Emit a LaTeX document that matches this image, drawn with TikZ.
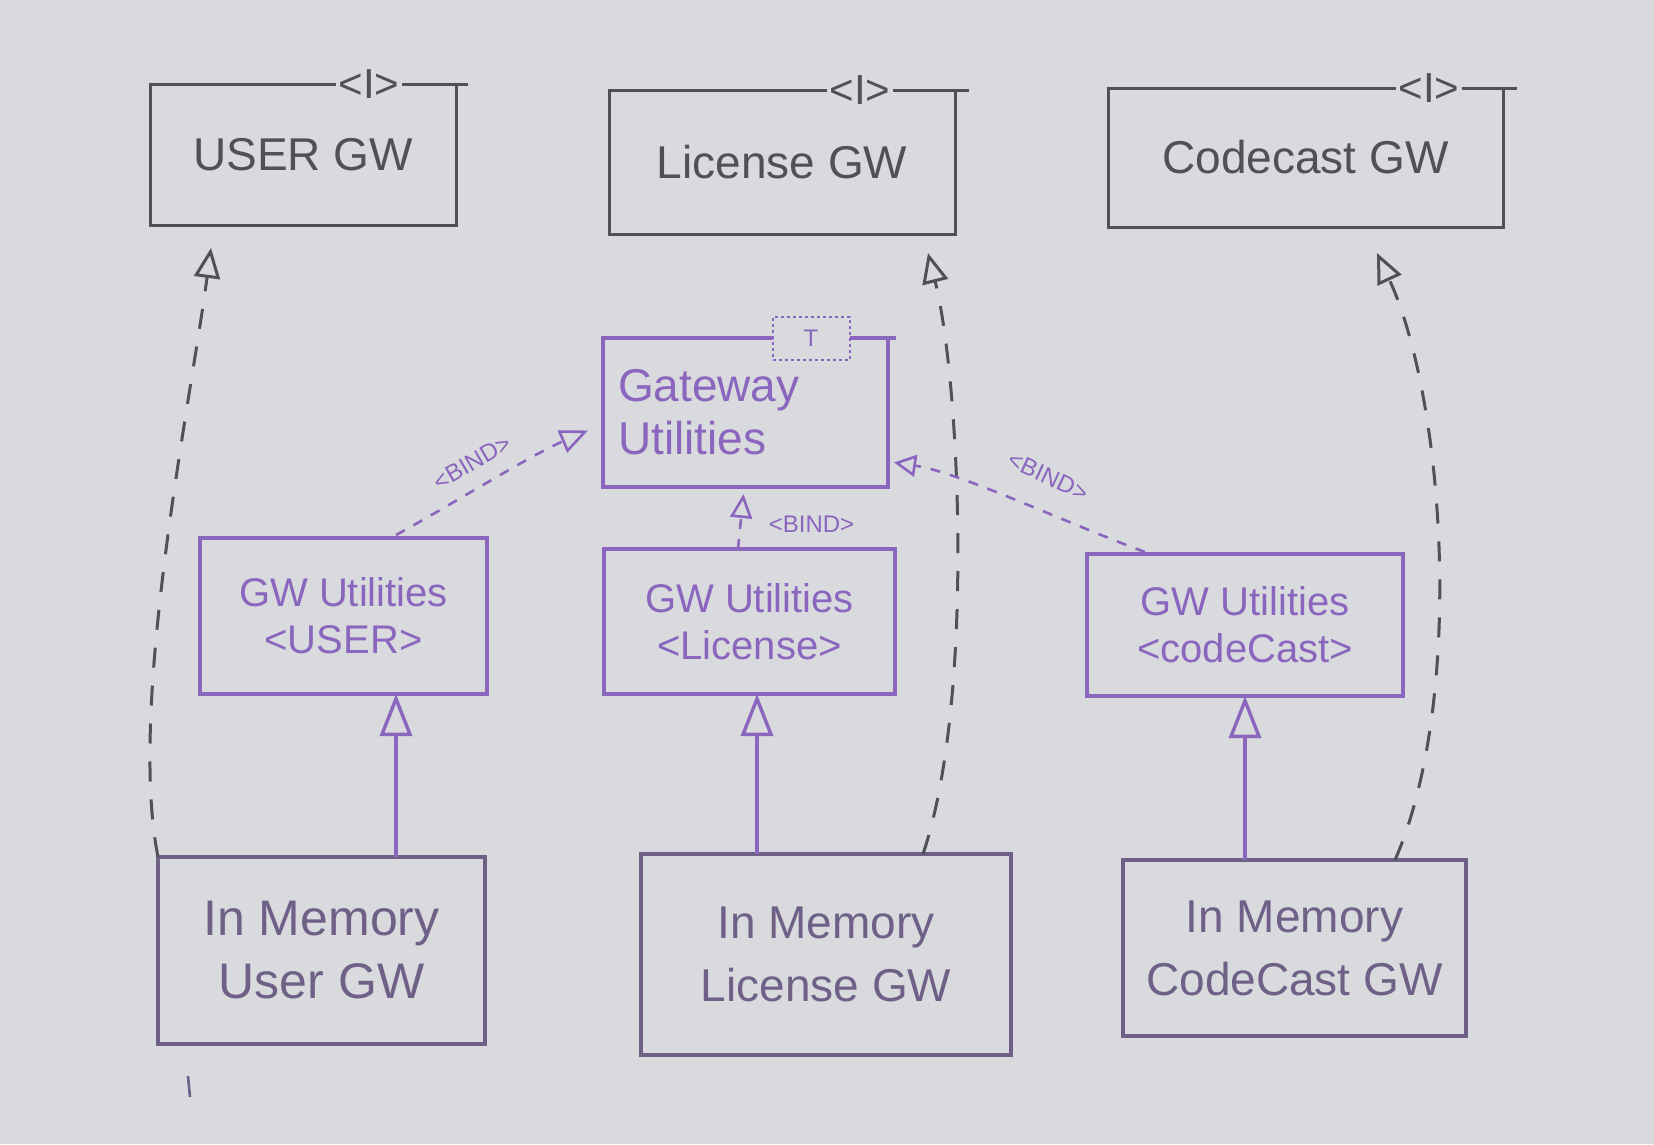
\documentclass[tikz,border=0pt]{standalone}
\usepackage{fontspec}
\setmainfont{Liberation Sans}
\usetikzlibrary{arrows.meta,calc}
\definecolor{board}{RGB}{217,218,221}
\definecolor{ink}{RGB}{80,80,88}
\definecolor{pur}{RGB}{138,102,190}
\definecolor{memink}{RGB}{110,96,135}
\begin{document}
\begin{tikzpicture}[x=1pt,y=-1pt,
  iface/.style={draw=ink, line width=3pt, rectangle, inner sep=0pt, outer sep=0pt, text=ink, font=\fontsize{46}{53}\selectfont},
  util/.style={draw=pur, line width=3.4pt, rectangle, inner sep=0pt, outer sep=0pt, text=pur, align=center, font=\fontsize{40}{47}\selectfont},
  memory/.style={draw=memink, line width=3.2pt, rectangle, inner sep=0pt, outer sep=0pt, text=memink, align=center, font=\fontsize{46}{63}\selectfont},
  itag/.style={fill=board, inner sep=3pt, text=ink, font=\fontsize{42}{42}\selectfont},
  realize/.style={draw=ink, line width=3pt, dash pattern=on 20pt off 18pt, -{Triangle[open,length=30pt,width=26pt]}},
  inherit/.style={draw=pur, line width=3.4pt, -{Triangle[open,length=42pt,width=32pt]}},
  bindarrow/.style={draw=pur, line width=2.6pt, dash pattern=on 10pt off 10pt, -{Triangle[open,length=28pt,width=24pt]}},
  bindlbl/.style={text=pur, font=\fontsize{24}{24}\selectfont, inner sep=1pt},
]
\useasboundingbox (0,0) rectangle (1654,1144);
\fill[board] (0,0) rectangle (1654,1144);

% interfaces
\node[iface, minimum width=306pt, minimum height=141pt] (user) at (303,154.5) {USER GW};
\node[iface, minimum width=346pt, minimum height=144pt] (lic) at (782,162) {License GW};
\node[iface, minimum width=395pt, minimum height=139pt] (cc) at (1305.5,157.5) {Codecast GW};
\draw[ink, line width=3pt] (user.north east) -- ++(12,0);
\draw[ink, line width=3pt] (lic.north east) -- ++(14,0);
\draw[ink, line width=3pt] (cc.north east) -- ++(14,0);
\node[itag] (usertag) at ([xshift=-87pt]user.north east) {\textless I\textgreater};
\node[itag] (lictag) at ([xshift=-95pt]lic.north east) {\textless I\textgreater};
\node[itag] (cctag) at ([xshift=-74pt]cc.north east) {\textless I\textgreater};

% gateway utilities
\node[util, align=left, text width=255pt, inner xsep=15pt, minimum height=149pt, font=\fontsize{46}{53}\selectfont] (gw) at (745.5,412.5) {Gateway\\Utilities};
\draw[pur, line width=3.4pt] (gw.north east) -- ++(8,0);
\node[draw=pur, dashed, line width=2pt, fill=board, minimum width=77pt, minimum height=43pt, inner sep=0pt, text=pur, font=\fontsize{24}{24}\selectfont] (gwtag) at ([xshift=-77pt]gw.north east) {T};

% utilities
\node[util, minimum width=287pt, minimum height=156pt] (gu) at (343.5,616) {GW Utilities\\\textless USER\textgreater};
\node[util, minimum width=291pt, minimum height=145pt] (gl) at (749.5,621.5) {GW Utilities\\\textless License\textgreater};
\node[util, minimum width=316pt, minimum height=142pt] (gc) at (1245,625) {GW Utilities\\\textless codeCast\textgreater};

% in-memory implementations
\node[memory, minimum width=327pt, minimum height=187pt, font=\fontsize{50}{63}\selectfont] (imu) at (321.5,950.5) {In Memory\\User GW};
\node[memory, minimum width=370pt, minimum height=201pt] (iml) at (826,954.5) {In Memory\\License GW};
\node[memory, minimum width=343pt, minimum height=176pt] (imc) at (1294.5,948) {In Memory\\CodeCast GW};

% inheritance
\draw[inherit] ($(imu.north)+(74.5,0)$) -- ($(gu.south)+(52.5,0)$);
\draw[inherit] ($(iml.north)+(-69,0)$) -- ($(gl.south)+(7.5,0)$);
\draw[inherit] ($(imc.north)+(-49.5,0)$) -- (gc.south);

% realization
\draw[realize] (imu.north west) .. controls ($(imu.north west)+(-30,-150)$) and ($(user.south west)+(40,180)$) .. ($(user.south west)+(61,23)$);
\draw[realize] ($(iml.north east)+(-88,0)$) .. controls ($(iml.north east)+(-36,-154)$) and ($(lic.south east)+(5,146)$) .. ($(lic.south east)+(-27,19)$);
\draw[realize] ($(imc.north east)+(-71,0)$) .. controls ($(imc.north east)+(-1,-160)$) and ($(cc.south east)+(-58,173)$) .. ($(cc.south east)+(-126,26)$);

% bind
\draw[bindarrow] ($(gu.north)+(52.5,-3)$) .. controls ($(gw.west)+(-153,93)$) and ($(gw.west)+(-73,43)$) .. ($(gw.west)+(-15,18)$);
\draw[bindarrow, -{Triangle[open,length=24pt,width=22pt]}] ($(gl.north)+(-11.5,0)$) -- ($(gw.south)+(-2,7)$);
\draw[bindarrow, -{Triangle[open,length=22pt,width=22pt]}] ($(gc.north)+(-100,-2)$) .. controls ($(gw.east)+(172,108)$) and ($(gw.east)+(72,60)$) .. ($(gw.east)+(6,50)$);
\node[bindlbl, rotate=30] (bl1) at ($(gw.west)+(-131,50)$) {\textless BIND\textgreater};
\node[bindlbl] (bl2) at ($(gw.south)+(66,37)$) {\textless BIND\textgreater};
\node[bindlbl, rotate=-25] (bl3) at ($(gw.east)+(160,64)$) {\textless BIND\textgreater};

% stray mark
\draw[memink, line width=2.6pt] ([shift={(30,32)}]imu.south west) -- ++(2,21);
\end{tikzpicture}
\end{document}
